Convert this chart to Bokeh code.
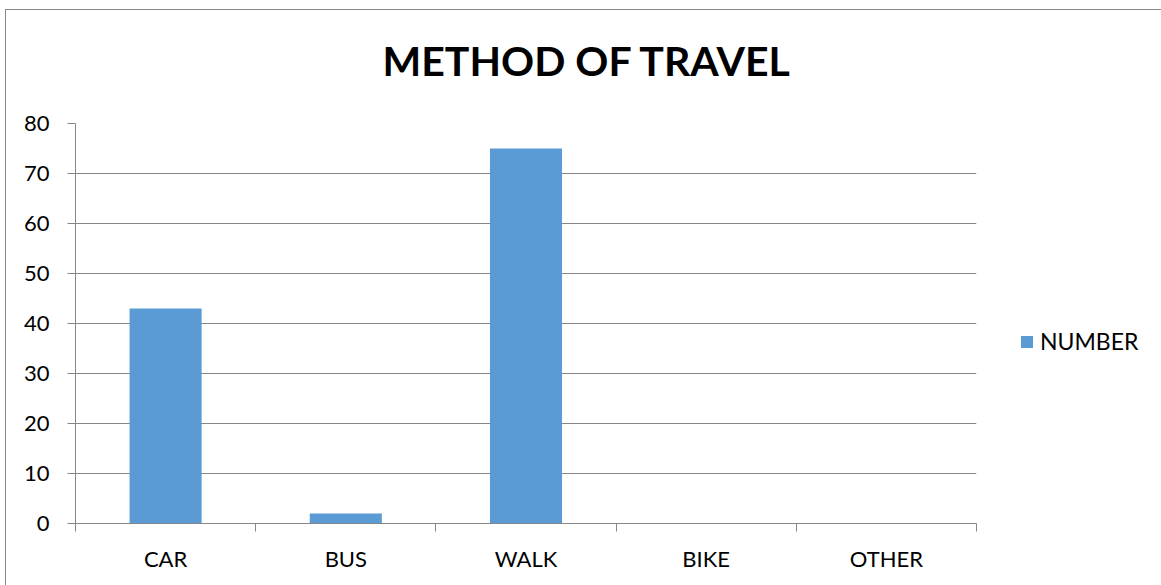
from bokeh.plotting import figure
from bokeh.models import Range1d, FixedTicker, Legend, LegendItem, ColumnDataSource, Title
from bokeh.embed import file_html
from bokeh.resources import INLINE

categories = ["CAR", "BUS", "WALK", "BIKE", "OTHER"]
values = [43, 2, 75, 0, 0]
y_ticks = [0, 10, 20, 30, 40, 50, 60, 70, 80]
title_text = "METHOD OF TRAVEL"
series_name = "NUMBER"

FONT = "Lato"
GRAY = "#868686"
BAR = "#5B9BD5"

xs = [i + 1 for i in range(len(categories))]
src = ColumnDataSource(dict(x=xs, top=values, cat=categories))

p = figure(frame_width=901, frame_height=400, output_backend="svg", toolbar_location=None,
           x_range=Range1d(0.5, len(categories) + 0.5), y_range=Range1d(y_ticks[0], y_ticks[-1]),
           min_border_left=69, min_border_right=185, min_border_top=113, min_border_bottom=62)
p.outline_line_color = None
p.background_fill_color = "white"
p.border_fill_color = "white"
p.styles = {"margin-left": "5px", "margin-top": "9px",
            "border-left": "1px solid #8a8a8a", "border-top": "1px solid #8a8a8a"}

r = p.vbar(x="x", top="top", width=0.4, source=src, fill_color=BAR, line_color=None)

# x axis: category labels at centres, ticks at boundaries
p.xaxis.ticker = FixedTicker(ticks=xs, minor_ticks=[x - 0.5 for x in xs] + [xs[-1] + 0.5])
p.xaxis.major_label_overrides = {x: c for x, c in zip(xs, categories)}
p.xaxis.major_tick_out = 0
p.xaxis.major_tick_in = 0
p.xaxis.minor_tick_out = 8
p.xaxis.minor_tick_in = 0
p.xaxis.minor_tick_line_color = GRAY
p.xaxis.axis_line_color = GRAY
p.xaxis.major_label_text_font = FONT
p.xaxis.major_label_text_font_size = "22px"
p.xaxis.major_label_text_color = "black"
p.xaxis.major_label_standoff = 13

p.yaxis.ticker = FixedTicker(ticks=y_ticks)
p.yaxis.major_tick_out = 8
p.yaxis.major_tick_in = 0
p.yaxis.minor_tick_out = 0
p.yaxis.minor_tick_in = 0
p.yaxis.major_tick_line_color = GRAY
p.yaxis.axis_line_color = GRAY
p.yaxis.major_label_text_font = FONT
p.yaxis.major_label_text_font_size = "22px"
p.yaxis.major_label_text_color = "black"
p.yaxis.major_label_standoff = 18

p.xgrid.visible = False
p.ygrid.ticker = FixedTicker(ticks=y_ticks)
p.ygrid.grid_line_color = GRAY
p.ygrid.grid_line_width = 1

legend = Legend(items=[LegendItem(label=series_name, renderers=[r])], location=(43, 168),
                padding=0, margin=0, border_line_color=None, background_fill_alpha=0,
                glyph_width=15, glyph_height=15, label_height=20, label_standoff=6,
                label_text_font=FONT, label_text_font_size="23px", label_text_color="black")
p.add_layout(legend, "right")

# spacer between plot frame and title (closest to the frame)
spacer = Title(text=" ", text_font_size="1px", standoff=36, text_color="white")
p.add_layout(spacer, "above")
title = Title(text=title_text, align="left", offset=307, vertical_align="bottom", standoff=0,
              text_font=FONT, text_font_size="41px", text_font_style="bold", text_color="black")
p.add_layout(title, "above")

open("out.html", "w").write(file_html(p, INLINE))
